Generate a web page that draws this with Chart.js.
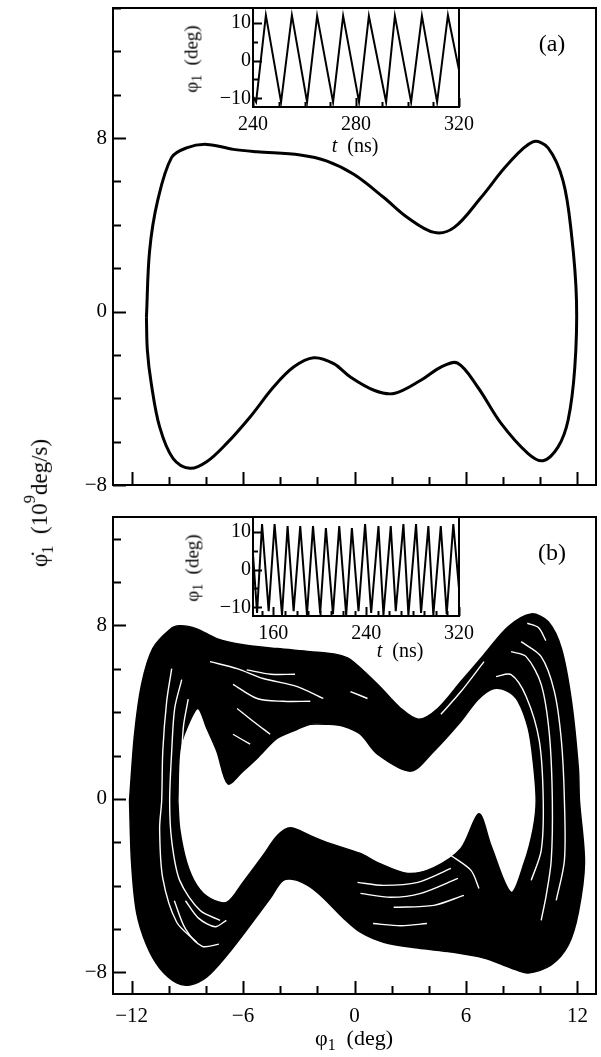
<!DOCTYPE html>
<html>
<head>
<meta charset="utf-8">
<script src="https://cdn.jsdelivr.net/npm/chart.js@4.4.1/dist/chart.umd.min.js"></script>
<style>
  html, body { margin: 0; padding: 0; background: #fff; }
  #fig { position: relative; width: 601px; height: 1057px; overflow: hidden;
         font-family: 'Liberation Serif', 'Times New Roman', serif; color: #000; }
  canvas { position: absolute; }
  .txt { position: absolute; white-space: nowrap; line-height: 1; }
  .c { transform: translate(-50%, -50%); }
  .r { transform: translate(-50%, -50%) rotate(-90deg); }
  sub { font-size: 0.72em; vertical-align: -0.32em; }
  sup { font-size: 0.72em; vertical-align: 0.75em; }
</style>
</head>
<body>
<div id="fig">
  <canvas id="mainA" width="601" height="500" style="left:0;top:0"></canvas>
  <canvas id="mainB" width="601" height="557" style="left:0;top:500px"></canvas>
  <canvas id="insetA" width="310" height="160" style="left:180px;top:0"></canvas>
  <canvas id="insetB" width="310" height="170" style="left:180px;top:500px"></canvas>

  <div class="txt c" style="left:552px;top:43px;font-size:24px">(a)</div>
  <div class="txt c" style="left:552px;top:552px;font-size:24px">(b)</div>

  <div class="txt r" style="left:39px;top:503px;font-size:23px">&#966;&#775;<sub>1</sub>&nbsp;&nbsp;(10<sup>9</sup>deg/s)</div>
  <div class="txt c" style="left:354px;top:1040px;font-size:22px">&#966;<sub>1</sub>&nbsp;&nbsp;(deg)</div>

  <div class="txt r" style="left:193px;top:59px;font-size:19px">&#966;<sub>1</sub>&nbsp;&nbsp;(deg)</div>
  <div class="txt c" style="left:355px;top:145px;font-size:20px"><i>t</i>&nbsp;&nbsp;(ns)</div>
  <div class="txt r" style="left:194px;top:568px;font-size:19px">&#966;<sub>1</sub>&nbsp;&nbsp;(deg)</div>
  <div class="txt c" style="left:400px;top:650px;font-size:20px"><i>t</i>&nbsp;&nbsp;(ns)</div>
</div>

<script>
/* ============================================================
   DATA
   ============================================================ */

// shared phase-plane axes (phi_1 in deg, dphi_1/dt in 10^9 deg/s)
const PHI_TICKS   = [-12, -10, -8, -6, -4, -2, 0, 2, 4, 6, 8, 10, 12];
const PHI_LABELS  = [-12, -6, 0, 6, 12];
const DPHI_TICKS_A = [-8, -6, -4, -2, 0, 2, 4, 6, 8, 10, 12, 14];
const DPHI_TICKS_B = [-8, -6, -4, -2, 0, 2, 4, 6, 8, 10, 12];
const DPHI_LABELS = [-8, 0, 8];

// (a) periodic limit cycle
const A_PHI  = [-11.2, -11.03, -10.6, -9.85, -9.04, -7.96, -6.52, -5.26, -2.92, -1.48, -0.04, 1.58, 2.85, 4.29,
                5.37, 6.81, 8.25, 9.6, 10.42, 11.23, 11.68, 11.95, 11.86, 11.5, 10.96, 10.15, 9.33, 7.89, 6.63,
                5.55, 4.65, 3.57, 2.12, 1.05, -0.22, -1.12, -2.2, -3.28, -4.36, -5.62, -6.88, -7.96, -8.86,
                -9.77, -10.49, -10.94, -11.15, -11.2];
const A_DPHI = [-0.26, 2.8, 5.1, 7.1, 7.55, 7.71, 7.48, 7.37, 7.22, 6.94, 6.33, 5.26, 4.34, 3.65,
                3.88, 5.26, 6.79, 7.83, 7.55, 6.02, 3.57, 0.5, -2.56, -5.0, -6.24, -6.88, -6.54, -5.16, -3.48,
                -2.38, -2.56, -3.17, -3.78, -3.63, -3.02, -2.40, -2.13, -2.56, -3.48, -4.86, -6.08, -6.93, -7.23,
                -6.77, -5.32, -3.32, -1.79, -0.26];

// (b) chaotic attractor: outer edge of the dense band
const B_OUT_PHI  = [-12.11, -11.84, -11.46, -10.86, -9.95, -9.41, -8.49, -7.41, -6.0, -4.16, -2.38, -0.92, -0.22,
                    1.24, 2.49, 3.46, 4.49, 5.73, 6.97, 8.27, 9.51, 10.43, 11.14, 11.68, 12.05, 12.11,
                    12.38, 12.05, 11.51, 10.59, 9.35, 8.43, 6.97, 5.19, 3.41, 1.57, 0.32, -0.59, -2.0, -3.08,
                    -3.84, -4.54, -5.62, -6.86, -7.95, -8.86, -9.57, -10.49, -11.19, -11.73, -12.0, -12.11];
const B_OUT_DPHI = [-0.09, 2.98, 5.28, 6.93, 7.80, 7.98, 7.84, 7.39, 7.11, 6.93, 6.79, 6.65, 6.42,
                    5.28, 4.17, 3.67, 4.17, 5.41, 6.65, 7.94, 8.53, 8.17, 6.93, 4.50, 1.42, -0.09,
                    -2.94, -5.23, -6.74, -7.66, -8.03, -7.80, -7.34, -7.06, -6.88, -6.61, -6.15, -5.50, -4.31, -3.76,
                    -3.76, -4.59, -5.83, -7.20, -8.21, -8.58, -8.49, -7.80, -6.74, -5.23, -2.94, -0.09];

// (b) inner edge (empty hole with the two cusps)
const B_IN_PHI  = [-9.51, -9.41, -9.03, -8.43, -7.95, -7.41, -6.81, -6.0, -5.24, -4.16, -3.08, -2.38, -1.46, -0.59,
                   0.32, 1.24, 3.03, 4.27, 5.73, 6.65, 7.51, 8.27, 8.81, 9.35, 9.62, 9.78, 9.62, 9.14, 8.43,
                   7.35, 6.70, 5.73, 4.27, 2.86, 1.24, 0.32, -1.46, -2.38, -3.46, -4.16, -4.92, -6.0, -6.86,
                   -7.78, -8.49, -9.03, -9.41, -9.51];
const B_IN_DPHI = [-0.09, 2.20, 3.26, 4.17, 3.26, 2.20, 0.69, 1.28, 1.88, 2.80, 3.21, 3.44, 3.44, 3.35,
                   2.98, 2.06, 1.28, 2.20, 3.58, 4.59, 5.09, 4.95, 4.50, 3.26, 1.74, -0.09, -1.38, -2.94, -4.31,
                   -2.16, -0.69, -2.29, -3.17, -3.44, -2.94, -2.52, -2.02, -1.70, -1.33, -1.70, -2.61, -3.85, -4.77,
                   -4.59, -3.99, -2.94, -1.38, -0.09];

// (b) white gaps between strands: [phi, dphi] pairs
const GAP_LEFT_1  = [[-9.84, 6.01], [-10.11, 4.50], [-10.32, 2.20], [-10.38, -0.09], [-10.49, -1.38], [-10.32, -3.67], [-9.57, -5.69], [-8.49, -6.61]];
const GAP_LEFT_2  = [[-9.30, 5.50], [-9.68, 4.17], [-9.84, 2.20], [-9.95, -0.09], [-9.84, -1.93], [-9.41, -3.76], [-8.32, -5.14], [-7.24, -5.60]];
const GAP_LEFT_3  = [[-8.95, 4.6], [-9.2, 3.4], [-9.32, 1.9]];
const GAP_LL_1    = [[-9.1, -4.7], [-8.4, -5.5], [-7.5, -5.9], [-6.9, -5.6]];
const GAP_LL_2    = [[-9.7, -4.7], [-9.1, -6.0], [-8.2, -6.8], [-7.3, -6.7]];
const GAP_RIGHT_1 = [[8.43, 6.79], [9.24, 6.56], [10.05, 5.28], [10.49, 2.98], [10.65, -0.09], [10.59, -2.84], [10.32, -4.45], [10.05, -5.60]];
const GAP_RIGHT_2 = [[7.62, 5.64], [8.43, 5.73], [9.24, 4.72], [9.95, 2.66], [10.16, -0.09], [10.05, -2.39], [9.51, -3.76]];
const GAP_RIGHT_3 = [[8.97, 7.25], [10.05, 6.56], [10.76, 4.95], [11.14, 2.66], [11.30, -0.09], [11.30, -2.84], [10.86, -4.68]];
const GAP_RIGHT_4 = [[9.3, 8.1], [9.9, 7.9], [10.3, 7.3]];
const GAP_TOP_1   = [[-7.78, 6.33], [-6.32, 6.01], [-4.92, 5.55], [-3.08, 5.18], [-1.68, 4.63]];
const GAP_TOP_2   = [[-6.54, 5.28], [-5.24, 4.63], [-3.84, 4.50], [-2.38, 4.50]];
const GAP_TOP_3   = [[-6.32, 4.17], [-5.46, 3.58], [-4.54, 2.98]];
const GAP_TOP_4   = [[-6.54, 2.98], [-5.62, 2.52]];
const GAP_TOP_5   = [[4.65, 3.90], [5.73, 4.95], [6.97, 6.33]];
const GAP_TOP_6   = [[-0.22, 4.95], [0.70, 4.63]];
const GAP_TOP_7   = [[-5.8, 5.95], [-4.5, 5.75], [-3.2, 5.75]];
const GAP_BOT_1   = [[0.16, -3.85], [1.57, -3.99], [3.41, -3.85], [5.19, -3.21]];
const GAP_BOT_2   = [[0.32, -4.36], [1.95, -4.54], [3.57, -4.36], [5.57, -3.67]];
const GAP_BOT_3   = [[2.11, -5.0], [4.27, -4.91], [5.89, -4.45]];
const GAP_BOT_4   = [[5.19, -2.61], [6.27, -3.30], [6.70, -4.13]];
const GAP_BOT_5   = [[1.0, -5.75], [2.5, -5.85], [3.9, -5.75]];

// insets: phi_1(t)
const INSET_DEG_TICKS  = [-10, -5, 0, 5, 10];
const INSET_DEG_LABELS = [-10, 0, 10];
const INSET_A_T_TICKS  = [240, 250, 260, 270, 280, 290, 300, 310, 320];
const INSET_A_T_LABELS = [240, 280, 320];
const INSET_B_T_TICKS  = [150, 160, 170, 180, 190, 200, 210, 220, 230, 240, 250, 260, 270, 280, 290, 300, 310, 320];
const INSET_B_T_LABELS = [160, 240, 320];

const INSET_A_T   = [240, 241.2, 245.0, 250.9, 255.1, 261.0, 264.9, 271.1, 275.0, 281.2, 285.0, 291.7, 295.1,
                     301.4, 305.6, 311.5, 315.7, 320];
const INSET_A_PHI = [-9.5, -11, 12, -11, 12, -11, 11.8, -11, 11.8, -11, 11.8, -11, 11.8,
                     -11, 11.8, -11, 12, -2.5];

const INSET_B_T   = [142.5, 146.0, 150.3, 156.0, 161.1, 167.5, 172.3, 177.5, 183.2, 189.0, 194.2, 200.4, 205.3,
                     211.4, 216.8, 222.8, 227.7, 233.4, 239.1, 244.3, 250.6, 254.9, 261.2, 265.5, 272.1, 276.4,
                     283.0, 287.3, 293.6, 297.9, 304.3, 309.4, 315.1, 320];
const INSET_B_PHI = [4, -11.5, 12, -11, 12, -12, 11.5, -11, 11.5, -12, 11.5, -11.5, 11,
                     -11.8, 11.5, -12, 11, -11, 12, -11.5, 11.5, -12, 11.5, -11, 12, -12,
                     12, -11.5, 11.5, -12, 11.5, -11.8, 12, -5];

/* ============================================================
   HELPERS
   ============================================================ */
const FONT = "'Liberation Serif', 'Times New Roman', serif";
const fmt = v => (v < 0 ? '\u2212' + Math.abs(v) : String(v));

// frame + inward tick marks, white plot background
const frameTicks = {
  id: 'frameTicks',
  beforeDraw(chart) {
    const { ctx, chartArea: a } = chart;
    ctx.save();
    ctx.fillStyle = '#fff';
    ctx.fillRect(a.left, a.top, a.width, a.height);
    ctx.restore();
  },
  afterDraw(chart, args, o) {
    const { ctx, chartArea: a, scales: { x, y } } = chart;
    ctx.save();
    ctx.strokeStyle = '#000';
    ctx.lineWidth = o.tickWidth;
    ctx.beginPath();
    x.ticks.forEach(t => {
      const px = Math.round(x.getPixelForValue(t.value)) + 0.5;
      const len = o.xMajor.includes(t.value) ? o.major : o.minor;
      ctx.moveTo(px, a.bottom); ctx.lineTo(px, a.bottom - len);
    });
    y.ticks.forEach(t => {
      const py = Math.round(y.getPixelForValue(t.value)) + 0.5;
      const len = o.yMajor.includes(t.value) ? o.major : o.minor;
      ctx.moveTo(a.left, py); ctx.lineTo(a.left + len, py);
    });
    ctx.stroke();
    ctx.lineWidth = o.frameWidth;
    ctx.strokeRect(a.left, a.top, a.width, a.height);
    ctx.restore();
  }
};

function axis(min, max, tickVals, labelVals, size, showLabels, fontSize, pad) {
  const horizontal = size.height !== undefined;
  return {
    type: 'linear', min, max,
    grid: { display: false, drawTicks: false },
    border: { display: false },
    afterBuildTicks: s => { s.ticks = tickVals.map(v => ({ value: v })); },
    afterFit: s => {
      if (horizontal) s.height = size.height; else s.width = size.width;
      // keep the plot box exactly where the layout padding puts it
      s.paddingTop = s.paddingBottom = s.paddingLeft = s.paddingRight = 0;
    },
    ticks: {
      display: showLabels, autoSkip: false, maxRotation: 0, minRotation: 0,
      padding: pad, color: '#000', font: { family: FONT, size: fontSize },
      callback: v => (labelVals.includes(v) ? fmt(v) : '')
    }
  };
}

function line(xs, ys, opts) {
  return Object.assign({
    data: xs.map((v, i) => ({ x: v, y: ys[i] })),
    showLine: true, pointRadius: 0, borderColor: '#000', borderWidth: 1,
    tension: 0.3, fill: false
  }, opts);
}

function gap(pairs) {
  return line(pairs.map(p => p[0]), pairs.map(p => p[1]),
    { borderColor: '#fff', borderWidth: 1.4, order: 1 });
}

function baseOptions(padding, scales, ticksCfg) {
  return {
    responsive: false, animation: false, events: [],
    layout: { padding, autoPadding: false },
    plugins: { legend: { display: false }, tooltip: { enabled: false }, frameTicks: ticksCfg },
    scales
  };
}

/* ============================================================
   1. PANEL (a) — limit cycle
   ============================================================ */
function initMainA() {
  new Chart(document.getElementById('mainA'), {
    type: 'scatter',
    data: { datasets: [line(A_PHI, A_DPHI, { borderWidth: 3, tension: 0.35 })] },
    options: baseOptions(
      { top: 8, right: 5, left: 0, bottom: 0 },
      {
        x: axis(-13, 13, PHI_TICKS, [], { height: 15 }, false, 21, 8),
        y: axis(-8, 14, DPHI_TICKS_A, DPHI_LABELS, { width: 113 }, true, 21, 6)
      },
      { major: 13, minor: 8, tickWidth: 2, frameWidth: 2, xMajor: PHI_LABELS, yMajor: DPHI_LABELS }
    ),
    plugins: [frameTicks]
  });
}

/* ============================================================
   2. PANEL (b) — chaotic attractor
   ============================================================ */
function initMainB() {
  const closed = (xs, ys) => [xs.concat(xs[0]), ys.concat(ys[0])];
  const [ox, oy] = closed(B_OUT_PHI, B_OUT_DPHI);
  const [ix, iy] = closed(B_IN_PHI, B_IN_DPHI);
  const gaps = [GAP_LEFT_1, GAP_LEFT_2, GAP_LEFT_3, GAP_LL_1, GAP_LL_2,
                GAP_RIGHT_1, GAP_RIGHT_2, GAP_RIGHT_3, GAP_RIGHT_4,
                GAP_TOP_1, GAP_TOP_2, GAP_TOP_3, GAP_TOP_4, GAP_TOP_5, GAP_TOP_6, GAP_TOP_7,
                GAP_BOT_1, GAP_BOT_2, GAP_BOT_3, GAP_BOT_4, GAP_BOT_5].map(gap);

  new Chart(document.getElementById('mainB'), {
    type: 'scatter',
    data: {
      datasets: [
        line(ox, oy, { fill: 'shape', backgroundColor: '#000', borderWidth: 1.5, order: 3 }),
        line(ix, iy, { fill: 'shape', backgroundColor: '#fff', borderWidth: 1.5, order: 2 }),
        ...gaps
      ]
    },
    options: baseOptions(
      { top: 17, right: 5, left: 0, bottom: 0 },
      {
        x: axis(-13, 13, PHI_TICKS, PHI_LABELS, { height: 63 }, true, 21, 10),
        y: axis(-9, 13, DPHI_TICKS_B, DPHI_LABELS, { width: 113 }, true, 21, 6)
      },
      { major: 13, minor: 8, tickWidth: 2, frameWidth: 2, xMajor: PHI_LABELS, yMajor: DPHI_LABELS }
    ),
    plugins: [frameTicks]
  });
}

/* ============================================================
   3. INSETS — phi_1(t)
   ============================================================ */
function initInset(id, ts, phis, tMin, tTicks, tLabels, padTop, height) {
  new Chart(document.getElementById(id), {
    type: 'scatter',
    data: { datasets: [line(ts, phis, { borderWidth: 2, tension: 0 })] },
    options: baseOptions(
      { top: padTop, right: 31, left: 0, bottom: 0 },
      {
        x: axis(tMin, 320, tTicks, tLabels, { height: height - padTop - 99 }, true, 20, 6),
        y: axis(-12.3, 13.9, INSET_DEG_TICKS, INSET_DEG_LABELS, { width: 73 }, true, 20, 2)
      },
      { major: 9, minor: 5, tickWidth: 2, frameWidth: 2, xMajor: tLabels, yMajor: INSET_DEG_LABELS }
    ),
    plugins: [frameTicks]
  });
}

initMainA();
initMainB();
initInset('insetA', INSET_A_T, INSET_A_PHI, 240, INSET_A_T_TICKS, INSET_A_T_LABELS, 8, 160);
initInset('insetB', INSET_B_T, INSET_B_PHI, 142.5, INSET_B_T_TICKS, INSET_B_T_LABELS, 17, 170);
</script>
</body>
</html>
